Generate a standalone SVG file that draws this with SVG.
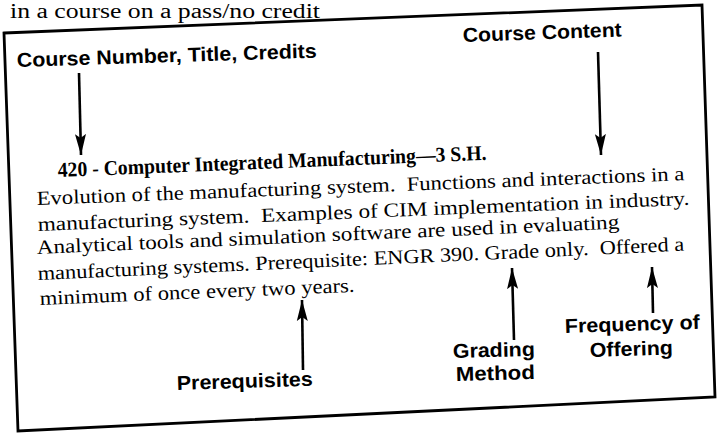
<svg xmlns="http://www.w3.org/2000/svg" width="720" height="433" viewBox="0 0 720 433">
<style>
.lbl{font-family:"Liberation Sans",Arial,sans-serif;font-weight:bold;font-size:20px;fill:#000}
.body{font-family:"Liberation Serif","Times New Roman",serif;font-size:20px;fill:#000;white-space:pre}
.title{font-family:"Liberation Serif","Times New Roman",serif;font-size:21px;font-weight:bold;fill:#000}
.arr{stroke:#000;stroke-width:2.6;fill:none;marker-end:url(#ah)}
</style>
<defs>
<marker id="ah" markerUnits="userSpaceOnUse" markerWidth="24" markerHeight="14" refX="21" refY="7" orient="auto">
<path d="M0,1.5 L21,7 L0,12.5 L4,7 z" fill="#000"/>
</marker>
</defs>
<rect width="720" height="433" fill="#fff"/>
<text class="body" x="10" y="18" font-size="17" textLength="310" lengthAdjust="spacingAndGlyphs">in a course on a pass/no credit</text>
<path id="frame" d="M4,33 L702,5 L715,397 L18,431 Z" fill="none" stroke="#000" stroke-width="2.8" stroke-linejoin="miter"/>
<g id="n-course-number"><text class="lbl" x="17" y="67" transform="rotate(-1.8 17 67)" textLength="300" lengthAdjust="spacingAndGlyphs">Course Number, Title, Credits</text></g>
<g id="n-course-content"><text class="lbl" x="463" y="42" transform="rotate(-2 463 42)" textLength="159" lengthAdjust="spacingAndGlyphs">Course Content</text></g>
<g id="n-description">
<text class="title" x="58" y="177" transform="rotate(-2.3 58 177)" textLength="429" lengthAdjust="spacingAndGlyphs">420 - Computer Integrated Manufacturing—3 S.H.</text>
<text class="body" x="37" y="205" transform="rotate(-2.2 37 205)" textLength="648" lengthAdjust="spacingAndGlyphs">Evolution of the manufacturing system.  Functions and interactions in a</text>
<text class="body" x="38" y="231" transform="rotate(-2.3 38 231)" textLength="652" lengthAdjust="spacingAndGlyphs">manufacturing system.  Examples of CIM implementation in industry.</text>
<text class="body" x="37" y="254" transform="rotate(-2.5 37 254)" textLength="583" lengthAdjust="spacingAndGlyphs">Analytical tools and simulation software are used in evaluating</text>
<text class="body" x="38" y="280" transform="rotate(-2.6 38 280)" textLength="647" lengthAdjust="spacingAndGlyphs">manufacturing systems. Prerequisite: ENGR 390. Grade only.  Offered a</text>
<text class="body" x="40" y="305" transform="rotate(-2.4 40 305)" textLength="315" lengthAdjust="spacingAndGlyphs">minimum of once every two years.</text>
</g>
<g id="n-prerequisites"><text class="lbl" x="177" y="390" transform="rotate(-1.8 177 390)" textLength="136" lengthAdjust="spacingAndGlyphs">Prerequisites</text></g>
<g id="n-grading">
<text class="lbl" x="453" y="358" transform="rotate(-1.5 453 358)" textLength="82" lengthAdjust="spacingAndGlyphs">Grading</text>
<text class="lbl" x="456" y="381" transform="rotate(-1.5 456 381)" textLength="79" lengthAdjust="spacingAndGlyphs">Method</text>
</g>
<g id="n-frequency">
<text class="lbl" x="565" y="333" transform="rotate(-1.8 565 333)" textLength="135" lengthAdjust="spacingAndGlyphs">Frequency of</text>
<text class="lbl" x="590" y="357" transform="rotate(-1.8 590 357)" textLength="83" lengthAdjust="spacingAndGlyphs">Offering</text>
</g>
<g id="connectors">
<path class="arr" d="M79,73 L81,155"/>
<path class="arr" d="M598,52 L601,155"/>
<path class="arr" d="M303,370 L302,300"/>
<path class="arr" d="M514,340 L512,268"/>
<path class="arr" d="M653,313 L652,267"/>
</g>
</svg>
